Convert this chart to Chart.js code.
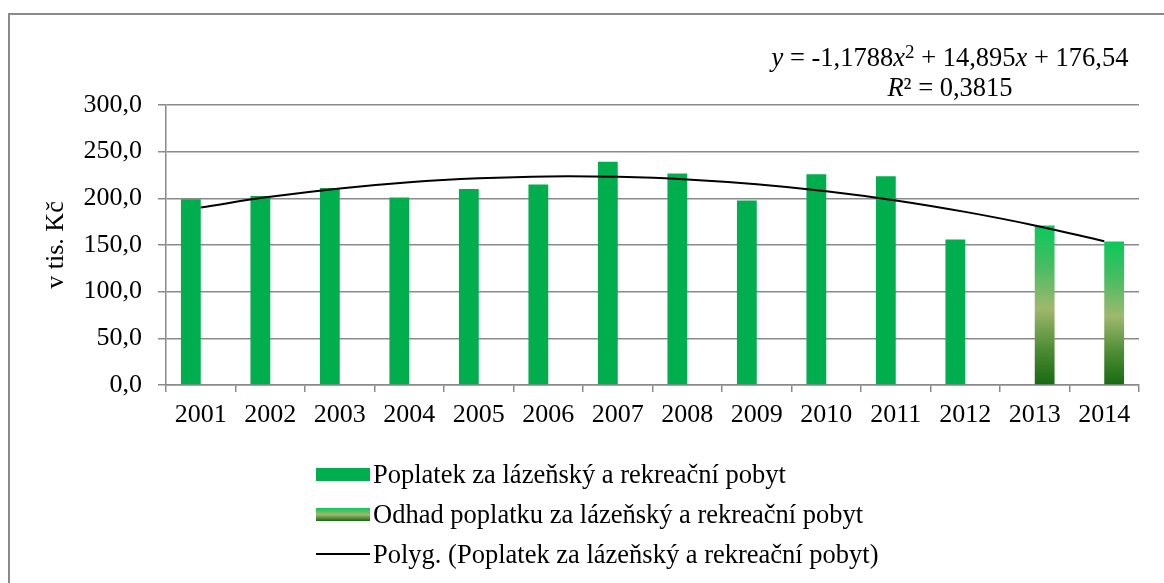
<!DOCTYPE html>
<html>
<head>
<meta charset="utf-8">
<script src="https://cdn.jsdelivr.net/npm/chart.js@4/dist/chart.umd.min.js"></script>
<style>
  body { margin: 0; background: #fff; font-family: "Liberation Serif", "Times New Roman", serif; }
  #wrap { position: relative; width: 1164px; height: 583px; overflow: hidden; }
  #frame { position: absolute; left: 8px; top: 13px; width: 1200px; height: 620px; border: 2px solid #8a8a8a; box-sizing: border-box; }
  #myChart { position: absolute; left: 0; top: 0; }
  #equation { position: absolute; left: 740px; top: 42px; width: 420px; text-align: center; font-size: 26.5px; line-height: 30px; color: #000; }
  #equation sup { font-size: 19px; vertical-align: 8px; line-height: 0; }
  #legend { position: absolute; left: 316px; top: 454px; font-size: 26.5px; color: #000; }
  .legend-item { display: flex; align-items: center; height: 40px; }
  .legend-box { width: 54px; height: 13px; margin-right: 3px; }
  .legend-line { width: 54px; height: 2px; background: #000; margin-right: 3px; }
</style>
</head>
<body>
<div id="wrap">
  <div id="frame"></div>
  <canvas id="myChart" width="1164" height="583"></canvas>
  <div id="equation">
    <div><i>y</i> = -1,1788<i>x</i><sup>2</sup> + 14,895<i>x</i> + 176,54</div>
    <div><i>R</i>² = 0,3815</div>
  </div>
  <div id="legend"></div>
</div>
<script>
const years = ["2001", "2002", "2003", "2004", "2005", "2006", "2007", "2008", "2009", "2010", "2011", "2012", "2013", "2014"];
const feeValues = [199, 202.6, 211.2, 200.9, 210.1, 214.7, 239.3, 226.5, 197.6, 225.8, 223.6, 156, null, null];
const estimateValues = [null, null, null, null, null, null, null, null, null, null, null, null, 170.9, 153.8];
const trendValues = [190.3, 201.6, 210.6, 217.3, 221.5, 223.5, 223.0, 220.3, 215.1, 207.6, 197.8, 185.5, 171.0, 154.0];
const yTicks = [0, 50, 100, 150, 200, 250, 300];

const feeLabel = "Poplatek za lázeňský a rekreační pobyt";
const estimateLabel = "Odhad poplatku za lázeňský a rekreační pobyt";
const trendLabel = "Polyg. (Poplatek za lázeňský a rekreační pobyt)";

const green = "#00ae4e";
const gridGray = "#8a8a8a";
const font = "'Liberation Serif', 'Times New Roman', serif";

// vertical gradient for each estimate bar, from bar top down to zero
const estimateFill = (context) => {
    const chart = context.chart;
    const value = context.raw;
    if (!chart.chartArea || value == null) return "#6aa84f";
    const y = chart.scales.y;
    const top = y.getPixelForValue(value);
    const bottom = y.getPixelForValue(0);
    const g = chart.ctx.createLinearGradient(0, top, 0, bottom);
    g.addColorStop(0, "#0bc85a");
    g.addColorStop(0.25, "#45bd62");
    g.addColorStop(0.52, "#9fb86d");
    g.addColorStop(0.78, "#4c8b33");
    g.addColorStop(1, "#176a10");
    return g;
};

const graph = document.getElementById("myChart").getContext("2d");
let myChart = new Chart(graph, {
    type: "bar",
    data: {
        labels: years,
        datasets: [{
            label: trendLabel,
            type: "line",
            data: trendValues,
            borderColor: "#000",
            borderWidth: 2,
            pointRadius: 0,
            tension: 0.4,
            fill: false,
            order: 0
        }, {
            label: feeLabel,
            data: feeValues,
            backgroundColor: green,
            categoryPercentage: 0.57,
            barPercentage: 1,
            order: 1
        }, {
            label: estimateLabel,
            data: estimateValues,
            backgroundColor: estimateFill,
            categoryPercentage: 0.57,
            barPercentage: 1,
            order: 1
        }]
    },
    options: {
        responsive: false,
        animation: false,
        devicePixelRatio: 1,
        layout: { padding: { left: 20, top: 105, right: 25, bottom: 153 } },
        plugins: {
            legend: { display: false },
            tooltip: { enabled: false }
        },
        scales: {
            x: {
                grid: { display: true, drawOnChartArea: false, drawTicks: true, tickLength: 7, color: gridGray, lineWidth: 1.5, offset: true },
                border: { color: gridGray, width: 1.5 },
                ticks: { color: "#000", font: { family: font, size: 26 }, padding: 8, maxRotation: 0, autoSkip: false },
                afterFit: s => { s.height = 45; }
            },
            y: {
                min: 0,
                max: 300,
                afterBuildTicks: s => { s.ticks = yTicks.map(v => ({ value: v })); },
                grid: { color: gridGray, lineWidth: 1.5, tickLength: 8 },
                border: { color: gridGray, width: 1.5 },
                ticks: {
                    color: "#000",
                    font: { family: font, size: 26 },
                    padding: 16,
                    callback: v => v.toFixed(1).replace(".", ",")
                },
                title: { display: true, text: "v tis. Kč", color: "#000", font: { family: font, size: 26 }, padding: { top: 21, bottom: 0 } },
                afterFit: s => { s.width = 146; }
            }
        }
    }
});

// legend as plain html, stacked like the original
const legend = document.getElementById("legend");
const legendItems = [
    { text: feeLabel, kind: "box", bg: green },
    { text: estimateLabel, kind: "box", bg: "linear-gradient(#0bc85a, #9fb86d 52%, #176a10)" },
    { text: trendLabel, kind: "line" }
];
legendItems.forEach(item => {
    const row = document.createElement("div");
    row.classList.add("legend-item");
    const mark = document.createElement("div");
    if (item.kind === "box") {
        mark.classList.add("legend-box");
        mark.style.background = item.bg;
    } else {
        mark.classList.add("legend-line");
    }
    const label = document.createElement("span");
    label.textContent = item.text;
    row.append(mark, label);
    legend.append(row);
});
</script>
</body>
</html>
